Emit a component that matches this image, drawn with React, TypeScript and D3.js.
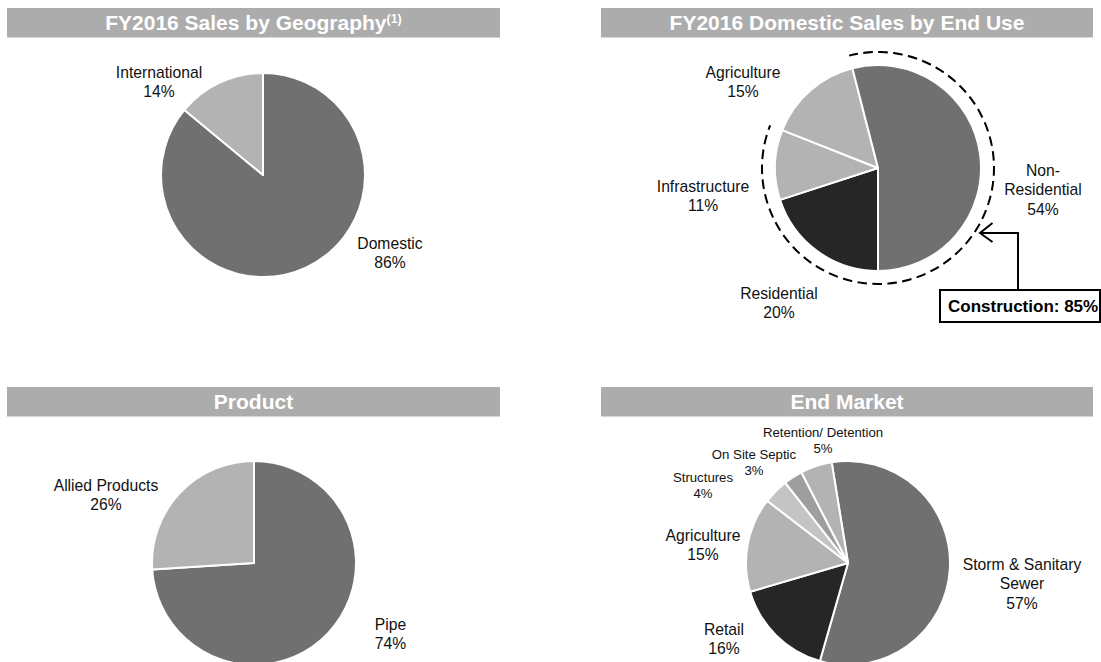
import React from "react";
import * as d3 from "d3";

// ---- Data ----
const geoCategories = ["Domestic", "International"];
const geoValues = [86, 14];

const endUseCategories = ["Residential", "Infrastructure", "Agriculture", "Non-Residential"];
const endUseValues = [20, 11, 15, 54];
const constructionLabel = "Construction: 85%";

const productCategories = ["Pipe", "Allied Products"];
const productValues = [74, 26];

const marketCategories = ["Storm & Sanitary Sewer", "Retail", "Agriculture", "Structures", "On Site Septic", "Retention/ Detention"];
const marketValues = [57, 16, 15, 4, 3, 5];

const titles = ["FY2016 Sales by Geography", "FY2016 Domestic Sales by End Use", "Product", "End Market"];

const FONT = "'Liberation Sans', Arial, Helvetica, sans-serif";
const DARK = "#707070";
const LIGHT = "#b3b3b3";
const BLACKISH = "#262626";
const BAR = "#acacac";

type Lbl = { lines: string[]; x: number; y: number; size: number; lh: number };

function Pie({ cx, cy, r, values, colors, startAngle = 0 }: { cx: number; cy: number; r: number; values: number[]; colors: string[]; startAngle?: number }) {
  const arcs = d3.pie<number>().sort(null).value((d) => d).startAngle(startAngle).endAngle(startAngle + 2 * Math.PI)(values);
  const arcGen = d3.arc<d3.PieArcDatum<number>>().innerRadius(0).outerRadius(r);
  return (
    <g transform={`translate(${cx},${cy})`}>
      {arcs.map((a, i) => (
        <path key={i} d={arcGen(a) || ""} fill={colors[i]} stroke="#fff" strokeWidth={2} strokeLinejoin="round" />
      ))}
    </g>
  );
}

function Labels({ items }: { items: Lbl[] }) {
  return (
    <g fontFamily={FONT} fill="#111" textAnchor="middle">
      {items.map((it, i) => (
        <text key={i} x={it.x} y={it.y} fontSize={it.size}>
          {it.lines.map((l, j) => (
            <tspan key={j} x={it.x} y={it.y + j * it.lh}>{l}</tspan>
          ))}
        </text>
      ))}
    </g>
  );
}

function TitleBar({ x0, x1, y0, y1, text, sup }: { x0: number; x1: number; y0: number; y1: number; text: string; sup?: string }) {
  return (
    <g>
      <rect x={x0} y={y0} width={x1 - x0} height={y1 - y0} fill={BAR} />
      <text x={(x0 + x1) / 2} y={y1 - 7.5} textAnchor="middle" fontFamily={FONT} fontWeight="bold" fontSize={21} fill="#fff">
        {text}
        {sup ? <tspan fontSize={12.5} dy={-7}>{sup}</tspan> : null}
      </text>
    </g>
  );
}

export default function App() {
  const L = 15.7;
  const LH = 19.5;
  const S = 13.2;
  const SH = 16.3;

  // End use pie geometry
  const c2 = { x: 878, y: 168, r: 103 };
  const endArcs = d3.pie<number>().sort(null).value((d) => d).startAngle(Math.PI).endAngle(3 * Math.PI)(endUseValues);
  const nonRes = endArcs[3];
  const infra = endArcs[1];
  const dashArc = d3.arc()({ innerRadius: 116, outerRadius: 116, startAngle: nonRes.startAngle, endAngle: infra.endAngle + 2 * Math.PI } as any) || "";

  return (
    <svg width={1101} height={662} style={{ position: "absolute", left: 0, top: 0, background: "#fff" }}>
      <TitleBar x0={7} x1={500} y0={8} y1={37.5} text={titles[0]} sup="(1)" />
      <TitleBar x0={601} x1={1093} y0={8} y1={37.5} text={titles[1]} />
      <TitleBar x0={7} x1={500} y0={387} y1={416.5} text={titles[2]} />
      <TitleBar x0={601} x1={1093} y0={387} y1={416.5} text={titles[3]} />

      {/* Geography */}
      <Pie cx={263} cy={175} r={102} values={geoValues} colors={[DARK, LIGHT]} />
      <Labels
        items={[
          { lines: [geoCategories[1], `${geoValues[1]}%`], x: 159, y: 77.5, size: L, lh: LH },
          { lines: [geoCategories[0], `${geoValues[0]}%`], x: 390, y: 248.5, size: L, lh: LH },
        ]}
      />

      {/* End Use */}
      <Pie cx={c2.x} cy={c2.y} r={c2.r} values={endUseValues} colors={[BLACKISH, LIGHT, LIGHT, DARK]} startAngle={Math.PI} />
      <path d={dashArc} transform={`translate(${c2.x},${c2.y})`} fill="none" stroke="#000" strokeWidth={2} strokeDasharray="9 6" />
      <Labels
        items={[
          { lines: [endUseCategories[2], `${endUseValues[2]}%`], x: 743, y: 77.5, size: L, lh: LH },
          { lines: [endUseCategories[1], `${endUseValues[1]}%`], x: 703, y: 191.5, size: L, lh: LH },
          { lines: ["Non-", "Residential", `${endUseValues[3]}%`], x: 1043, y: 175.5, size: L, lh: LH },
          { lines: [endUseCategories[0], `${endUseValues[0]}%`], x: 779, y: 298.5, size: L, lh: LH },
        ]}
      />
      <path d="M1018,290 V233 H981" fill="none" stroke="#000" strokeWidth={2} />
      <path d="M992.5,223 L980,233 L992.5,242" fill="none" stroke="#000" strokeWidth={2} />
      <rect x={940} y={290} width={160} height={32} fill="#fff" stroke="#000" strokeWidth={2} />
      <text x={948} y={312} fontFamily={FONT} fontWeight="bold" fontSize={17} fill="#000">{constructionLabel}</text>

      {/* Product */}
      <Pie cx={254} cy={563} r={102} values={productValues} colors={[DARK, LIGHT]} />
      <Labels
        items={[
          { lines: [productCategories[1], `${productValues[1]}%`], x: 106, y: 490.5, size: L, lh: LH },
          { lines: [productCategories[0], `${productValues[0]}%`], x: 390.5, y: 629.5, size: L, lh: LH },
        ]}
      />

      {/* End Market */}
      <Pie cx={848} cy={563} r={102} values={marketValues} colors={[DARK, BLACKISH, LIGHT, "#c4c4c4", "#9e9e9e", LIGHT]} startAngle={(-9.2 * Math.PI) / 180} />
      <Labels
        items={[
          { lines: [marketCategories[5], `${marketValues[5]}%`], x: 823, y: 436.7, size: S, lh: SH },
          { lines: [marketCategories[4], `${marketValues[4]}%`], x: 754, y: 458.7, size: S, lh: SH },
          { lines: [marketCategories[3], `${marketValues[3]}%`], x: 703, y: 481.7, size: S, lh: SH },
          { lines: [marketCategories[2], `${marketValues[2]}%`], x: 703, y: 540.5, size: L, lh: LH },
          { lines: [marketCategories[1], `${marketValues[1]}%`], x: 724, y: 634.5, size: L, lh: LH },
          { lines: ["Storm & Sanitary", "Sewer", `${marketValues[0]}%`], x: 1022, y: 569.5, size: L, lh: LH },
        ]}
      />
    </svg>
  );
}
